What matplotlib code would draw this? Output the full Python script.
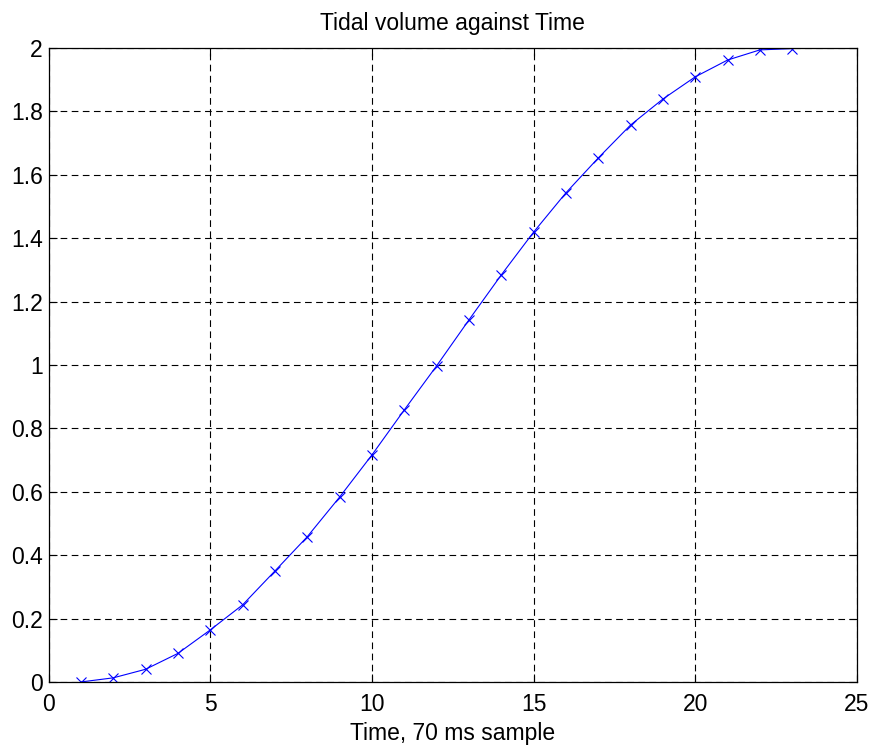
import numpy as np
import matplotlib
matplotlib.use("Agg")
import matplotlib.pyplot as plt

# tidal volume sampled every 70 ms
sample = np.arange(1, 24)
volume = [0.0, 0.013, 0.04, 0.09, 0.164, 0.243, 0.35, 0.458, 0.583, 0.716,
          0.858, 0.997, 1.142, 1.284, 1.419, 1.543, 1.653, 1.757, 1.839,
          1.909, 1.962, 1.994, 1.998]

xticks = [0, 5, 10, 15, 20, 25]
yticks = [0, 0.2, 0.4, 0.6, 0.8, 1, 1.2, 1.4, 1.6, 1.8, 2]


def main():
    plt.rcParams['font.family'] = ['Liberation Sans', 'DejaVu Sans']
    fig = plt.figure(figsize=(8.74, 7.45), dpi=100)
    ax = fig.add_axes([0.0555, 0.0846, 0.925, 0.851])

    ax.plot(sample, volume, color='blue', linewidth=0.8, marker='x',
            markersize=7, markeredgewidth=0.8)

    ax.set_xlim(0, 25)
    ax.set_ylim(0, 2)
    ax.set_xticks(xticks)
    ax.set_yticks(yticks)
    ax.set_xticklabels([str(t) for t in xticks])
    ax.set_yticklabels(['%g' % t for t in yticks])
    ax.tick_params(direction='in', length=6, width=0.8, top=True, right=True,
                   labelsize=16.5, colors='black')
    ax.tick_params(axis='x', pad=8)
    ax.tick_params(axis='y', pad=4)
    ax.grid(True, color='black', linestyle=(0, (6, 4)), linewidth=0.8)
    for s in ax.spines.values():
        s.set_linewidth(0.9)

    ax.set_title('Tidal volume against Time', fontsize=16.5, pad=13)
    ax.set_xlabel('Time, 70 ms sample', fontsize=16.5, labelpad=4)

    fig.savefig('out.png', dpi=100)


if __name__ == '__main__':
    main()
